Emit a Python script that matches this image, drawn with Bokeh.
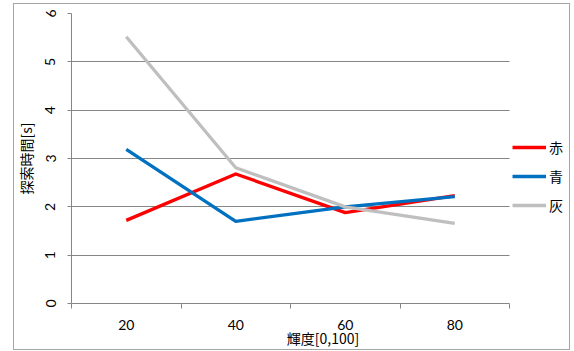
from bokeh.plotting import figure
from bokeh.models import FixedTicker, Legend, LegendItem, Grid
from bokeh.embed import file_html
from bokeh.resources import INLINE
import numpy as np

# Search time by brightness level for three stimulus colours
brightness = ["20", "40", "60", "80"]
red_times = [1.72, 2.68, 1.88, 2.23]
blue_times = [3.19, 1.70, 2.00, 2.21]
gray_times = [5.52, 2.81, 2.00, 1.66]
series_names = ["赤", "青", "灰"]
y_ticks = [0, 1, 2, 3, 4, 5, 6]

JP = "Noto Sans CJK JP"
NUM = "Lato"
AXIS_GRAY = "#868686"
BOX_GRAY = "#A6A6A6"

# Layout: the plotting area is 438 px wide; the legend sits in the
# frame to the right of it.
CANVAS_W, CANVAS_H = 574, 351
BORDER_L, BORDER_R, BORDER_T, BORDER_B = 71, 0, 13, 48
PLOT_W = 438
frame_w = CANVAS_W - BORDER_L - BORDER_R
n = len(brightness)
x_end = n * frame_w / PLOT_W

# chart-area box drawn behind the transparent canvas
bl, bt, br, bb = 13, 3, 569, 349
line = f"linear-gradient({BOX_GRAY},{BOX_GRAY})"
box_bg = ", ".join([
    f"{line} {bl}px {bt}px / {br - bl + 1}px 1px no-repeat",
    f"{line} {bl}px {bb}px / {br - bl + 1}px 1px no-repeat",
    f"{line} {bl}px {bt}px / 1px {bb - bt + 1}px no-repeat",
    f"{line} {br}px {bt}px / 1px {bb - bt + 1}px no-repeat",
    "white",
])

xs = np.arange(n) + 0.5

p = figure(width=CANVAS_W, height=CANVAS_H, output_backend="svg", toolbar_location=None,
           x_range=(0, x_end), y_range=(0, 6),
           min_border_left=BORDER_L, min_border_right=BORDER_R,
           min_border_top=BORDER_T, min_border_bottom=BORDER_B,
           styles={"background": box_bg})
p.outline_line_color = None
p.background_fill_alpha = 0
p.border_fill_alpha = 0

# x axis: labels at category centres, tick marks on category boundaries
p.xaxis.bounds = (0, n)
p.xaxis.ticker = FixedTicker(ticks=list(xs), minor_ticks=list(range(n + 1)))
p.xaxis.major_label_overrides = {float(x): b for x, b in zip(xs, brightness)}
p.xaxis.major_tick_out = 0
p.xaxis.major_tick_in = 0
p.xaxis.minor_tick_out = 5
p.xaxis.minor_tick_in = 0
p.xaxis.minor_tick_line_color = AXIS_GRAY
p.xaxis.axis_label = "輝度[0,100]"
p.xaxis.major_label_standoff = 11
p.xaxis.axis_label_standoff = -5

p.yaxis.ticker = FixedTicker(ticks=y_ticks)
p.yaxis.minor_tick_line_color = None
p.yaxis.major_tick_out = 4
p.yaxis.major_tick_in = 0
p.yaxis.major_label_orientation = "vertical"
p.yaxis.major_label_standoff = 12
p.yaxis.axis_label = "探索時間[s]"
p.yaxis.axis_label_standoff = 7

for ax in (p.xaxis, p.yaxis):
    ax.axis_line_color = AXIS_GRAY
    ax.major_tick_line_color = AXIS_GRAY
    ax.major_label_text_font = NUM
    ax.major_label_text_font_size = "14px"
    ax.major_label_text_color = "#000000"
    ax.axis_label_text_font = JP
    ax.axis_label_text_font_size = "14px"
    ax.axis_label_text_font_style = "normal"
    ax.axis_label_text_color = "#000000"

p.xgrid.grid_line_color = None
p.ygrid.ticker = FixedTicker(ticks=y_ticks)
p.ygrid.grid_line_color = AXIS_GRAY
p.ygrid.grid_line_width = 1
# horizontal gridlines stop at the edge of the plotting area
if "cross_bounds" in Grid.properties():
    p.ygrid.cross_bounds = (0, n)
else:
    p.ygrid.grid_line_color = None
    p.segment(x0=[0] * len(y_ticks), y0=y_ticks, x1=[n] * len(y_ticks), y1=y_ticks,
              line_color=AXIS_GRAY, line_width=1)

colors = ["#FF0000", "#0070C0", "#BFBFBF"]
renderers = []
for vals, c in zip([red_times, blue_times, gray_times], colors):
    r = p.line(xs, vals, line_color=c, line_width=3.3, line_join="round")
    renderers.append(r)

legend = Legend(items=[LegendItem(label=nm, renderers=[r]) for nm, r in zip(series_names, renderers)],
                location=(441, 88), orientation="vertical")
legend.glyph_width = 34
legend.glyph_height = 20
legend.label_height = 20
legend.spacing = 9
legend.padding = 0
legend.margin = 0
legend.label_standoff = 3
legend.border_line_color = None
legend.background_fill_alpha = 0
legend.label_text_font = JP
legend.label_text_font_size = "14px"
legend.label_text_color = "#000000"
p.add_layout(legend, "center")

open("out.html", "w").write(file_html(p, INLINE))
